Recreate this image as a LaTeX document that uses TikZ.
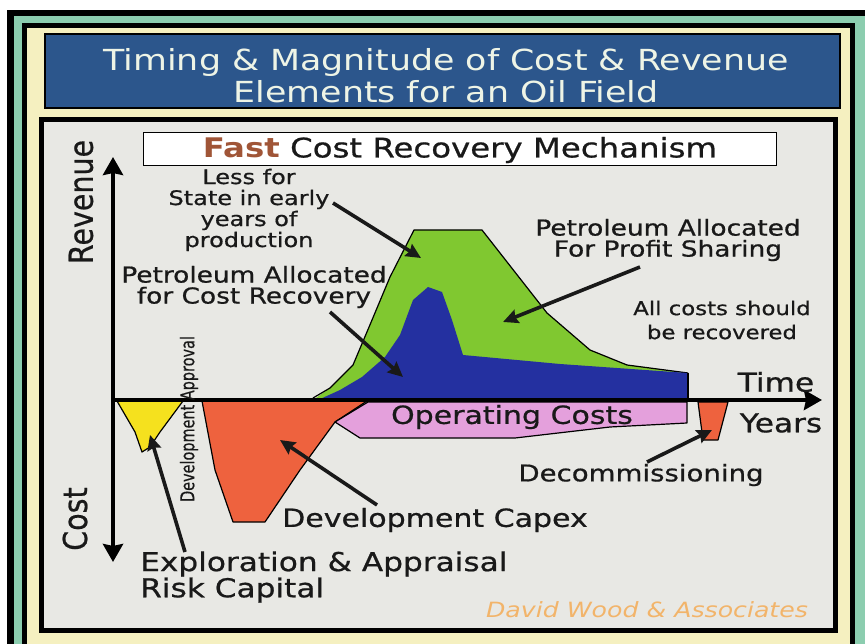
\documentclass[tikz,border=0pt]{standalone}
\usepackage{fontspec}
\usetikzlibrary{arrows.meta}
\setmainfont{DejaVu Sans}
\newfontfamily\lab{DejaVu Sans}[FakeStretch=1.2,FakeBold=0.7]
\newfontfamily\titlefont{DejaVu Sans}[FakeStretch=1.2]
\newfontfamily\labbold{DejaVu Sans Bold}[FakeStretch=1.2]
\newfontfamily\narrow{DejaVu Sans}[FakeBold=0.5]
\newfontfamily\wm{DejaVu Sans Oblique}[FakeStretch=1.2]
\newcommand\fsz[2]{\fontsize{#1}{#2}\selectfont}

\definecolor{frameteal}{RGB}{140,205,175}
\definecolor{framecream}{RGB}{245,240,192}
\definecolor{titleblue}{RGB}{44,86,140}
\definecolor{titletext}{RGB}{238,244,230}
\definecolor{panelgray}{RGB}{232,232,228}
\definecolor{profitgreen}{RGB}{128,200,48}
\definecolor{recovblue}{RGB}{36,48,160}
\definecolor{capexorange}{RGB}{238,98,62}
\definecolor{explyellow}{RGB}{245,225,30}
\definecolor{opexpink}{RGB}{228,160,220}
\definecolor{fastbrown}{RGB}{160,85,55}
\definecolor{inktext}{RGB}{25,25,25}
\definecolor{wmorange}{RGB}{242,180,106}

\tikzset{
  lbl/.style={font=\lab, text=inktext, inner sep=0pt, align=center},
  pointer/.style={line width=3.6pt, -{Stealth[length=15pt,width=14pt,inset=2pt]}, inktext},
  areaedge/.style={draw=black, line width=1.2pt, line join=round},
  axisline/.style={line width=4pt, black, {Stealth[length=18pt,width=20pt,inset=2pt]}-{Stealth[length=18pt,width=20pt,inset=2pt]}}
}

\begin{document}
\begin{tikzpicture}[x=1pt,y=-1pt]
\useasboundingbox (0,0) rectangle (865,644);
\clip (0,0) rectangle (865,644);

% nested frame: white margin, black, teal, black, cream
\fill[white] (0,0) rectangle (865,644);
\fill[black] (7,10) rectangle (900,700);
\fill[frameteal] (14,16) rectangle (890,690);
\fill[black] (22,23) rectangle (855,670);
\fill[framecream] (27,28) rectangle (850,660);

% title banner
\draw[fill=titleblue, draw=black, line width=2pt] (45,34) rectangle (840,108);
\node[font=\titlefont\fsz{29}{32}, text=titletext, align=center, inner sep=0pt] (title) at (446,76)
  {Timing \& Magnitude of Cost \& Revenue\\Elements for an Oil Field};

% main panel
\draw[fill=panelgray, draw=black, line width=5pt] (41,120) rectangle (835.5,630.5);

% subtitle box
\draw[fill=white, draw=black, line width=1pt] (143,133) rectangle (776,166);
\node[lbl, font=\lab\fsz{27}{30}] (subtitle) at (460,150)
  {{\labbold\color{fastbrown}Fast} Cost Recovery Mechanism};

% revenue areas
\fill[profitgreen] (313,400) -- (330,388) -- (353,365) -- (372,320) -- (390,277) -- (414,230)
  -- (482,230) -- (547,313) -- (590,350) -- (627,365) -- (688,373) -- (688,400) -- cycle;
\draw[black, line width=1.2pt, line join=round] (313,398) -- (330,388) -- (353,365) -- (372,320) -- (390,277) -- (414,230)
  -- (482,230) -- (547,313) -- (590,350) -- (627,365) -- (688,373);
\fill[recovblue] (318,400) -- (340,390) -- (362,377) -- (385,357) -- (400,335) -- (413,300)
  -- (428,287) -- (442,292) -- (452,320) -- (463,355) -- (560,364) -- (688,373) -- (688,400) -- cycle;
\draw[black, line width=1.2pt] (688,373) -- (688,400);

% cost areas
\draw[areaedge, fill=explyellow] (117,401) -- (183,401) -- (160,432) -- (150,447) -- (142,452) -- (135,432) -- cycle;
\draw[areaedge, fill=capexorange] (202,401) -- (367,401) -- (335,422) -- (300,470) -- (265,522)
  -- (233,522) -- (215,470) -- cycle;
\draw[areaedge, fill=opexpink] (335,422) -- (368,402) -- (687,402) -- (687,423) -- (610,427)
  -- (515,438) -- (360,438) -- cycle;
\draw[areaedge, fill=capexorange] (698,402) -- (728,402) -- (718,440) -- (703,440) -- cycle;

% axes
\coordinate (ytop) at (113,157);
\coordinate (ybot) at (113,562);
\coordinate (xorig) at (113,400);
\coordinate (xend) at (822,400);
\draw[axisline] (ytop) -- (ybot);
\draw[line width=4pt, -{Stealth[length=18pt,width=20pt,inset=2pt]}] (xorig) -- (xend);

% axis labels
\node[lbl, rotate=90] (revenue) at (81,202) {\scalebox{0.72}[1]{\fsz{33}{36}Revenue}};
\node[lbl, rotate=90] (cost) at (75,519) {\scalebox{0.72}[1]{\fsz{33}{36}Cost}};
\node[lbl, rotate=90] (devapp) at (189,419) {\scalebox{0.76}[1]{\narrow\fsz{19}{20}Development Approval}};
\node[lbl, font=\lab\fsz{26}{28}] (time) at (776,382) {Time};
\node[lbl, font=\lab\fsz{26}{28}] (years) at (781,423) {Years};

% annotations
\node[lbl, font=\lab\fsz{20}{21}] (lessfor) at (249,210) {Less for\\State in early\\years of\\production};
\node[lbl, font=\lab\fsz{22}{21}] (costrec) at (254,287) {Petroleum Allocated\\for Cost Recovery};
\node[lbl, font=\lab\fsz{22}{21}] (profit) at (668,240) {Petroleum Allocated\\For Profit Sharing};
\node[lbl, font=\lab\fsz{19}{24}] (allcosts) at (722,320) {All costs should\\be recovered};
\node[lbl, font=\lab\fsz{25}{28}] (opex) at (512,417) {Operating Costs};
\node[lbl, font=\lab\fsz{23}{26}] (decom) at (641,475) {Decommissioning};
\node[lbl, font=\lab\fsz{25}{28}] (capex) at (435,520) {Development Capex};
\node[lbl, font=\lab\fsz{26}{25}, anchor=west, align=left] (explor) at (140,577)
  {Exploration \& Appraisal\\Risk Capital};
\node[font=\wm\fsz{21}{24}, text=wmorange, inner sep=0pt] (credit) at (647,610) {David Wood \& Associates};

% pointer ends
\coordinate (lessS) at (333,203);  \coordinate (lessT) at (421,258);
\coordinate (recS) at (330,312);   \coordinate (recT) at (403,377);
\coordinate (profS) at (640,267);  \coordinate (profT) at (503,322);
\coordinate (explS) at (185,552);  \coordinate (explT) at (150,435);
\coordinate (capS) at (377,505);   \coordinate (capT) at (280,440);
\coordinate (decS) at (647,462);   \coordinate (decT) at (712,430);

\draw[pointer] (lessS) -- (lessT);
\draw[pointer] (recS) -- (recT);
\draw[pointer] (profS) -- (profT);
\draw[pointer] (explS) -- (explT);
\draw[pointer] (capS) -- (capT);
\draw[pointer] (decS) -- (decT);
\end{tikzpicture}
\end{document}
